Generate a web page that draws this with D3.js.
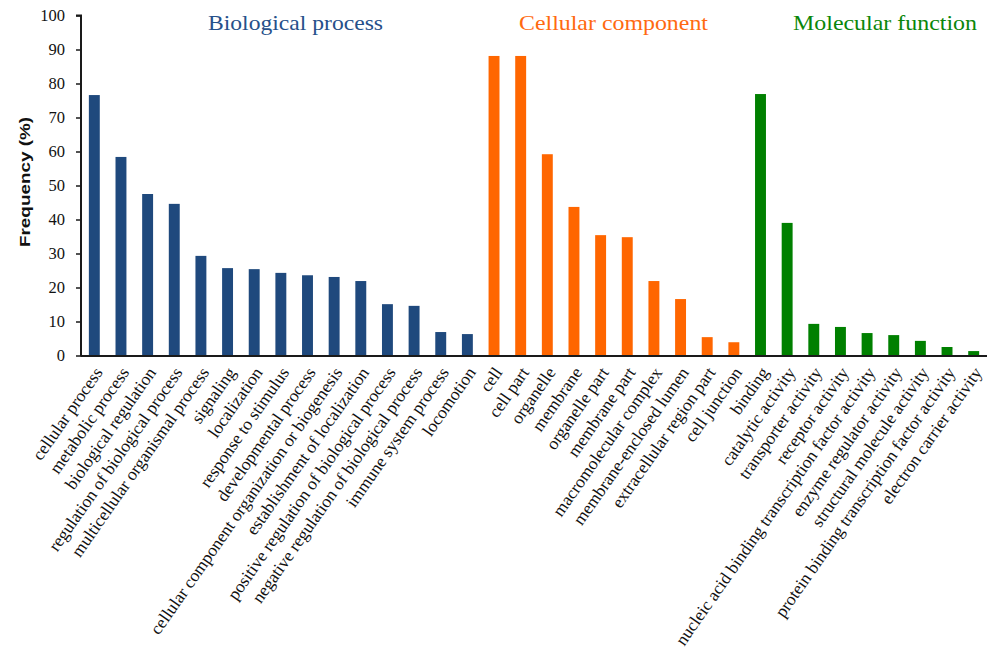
<!DOCTYPE html>
<html>
<head>
<meta charset="utf-8">
<script src="https://cdn.jsdelivr.net/npm/d3@7"></script>
<style>
  html, body { margin: 0; padding: 0; background: #fff; }
  svg { display: block; }
  .serif { font-family: "Liberation Serif", "Times New Roman", serif; }
  .sans { font-family: "Liberation Sans", Arial, sans-serif; }
</style>
</head>
<body>
<svg id="chart" width="987" height="658"></svg>
<script>
// GO term categories, grouped by ontology
const bioProcess = ["cellular process", "metabolic process", "biological regulation",
  "regulation of biological process", "multicellular organismal process", "signaling",
  "localization", "response to stimulus", "developmental process",
  "cellular component organization or biogenesis", "establishment of localization",
  "positive regulation of biological process", "negative regulation of biological process",
  "immune system process", "locomotion"];
const bioValues = [76.6, 58.4, 47.5, 44.6, 29.3, 25.7, 25.4, 24.3, 23.6, 23.1, 21.9, 15.1, 14.6, 6.9, 6.3];

const cellComponent = ["cell", "cell part", "organelle", "membrane", "organelle part",
  "membrane part", "macromolecular complex", "membrane-enclosed lumen",
  "extracellular region part", "cell junction"];
const cellValues = [88.1, 88.1, 59.2, 43.7, 35.4, 34.8, 21.9, 16.6, 5.4, 3.9];

const molFunction = ["binding", "catalytic activity", "transporter activity",
  "receptor activity", "nucleic acid binding transcription factor activity",
  "enzyme regulator activity", "structural molecule activity",
  "protein binding transcription factor activity", "electron carrier activity"];
const molValues = [76.9, 39.0, 9.3, 8.4, 6.6, 6.0, 4.3, 2.5, 1.3];

const groupNames = ["Biological process", "Cellular component", "Molecular function"];
const groupColors = ["#1f497d", "#ff6600", "#008000"];
const groupTextColors = ["#26508a", "#ff6a10", "#0a860a"];
const yTicks = [0, 10, 20, 30, 40, 50, 60, 70, 80, 90, 100];

// combined rows for the band scale
const rows = [];
[[bioProcess, bioValues], [cellComponent, cellValues], [molFunction, molValues]]
  .forEach(([names, vals], g) => names.forEach((n, i) => rows.push({ name: n, value: vals[i], group: g })));

const svg = d3.select("#chart");
const plotLeft = 81, plotRight = 987, plotTop = 15.5, plotBottom = 355.5;

const x = d3.scaleBand()
  .domain(rows.map(d => d.name))
  .range([plotLeft, plotRight])
  .paddingInner(0.59)
  .paddingOuter(0.295);

const y = d3.scaleLinear().domain([0, 100]).range([plotBottom, plotTop]);

// bars
svg.append("g").selectAll("rect")
  .data(rows)
  .join("rect")
  .attr("x", d => x(d.name))
  .attr("width", x.bandwidth())
  .attr("y", d => y(d.value))
  .attr("height", d => y(0) - y(d.value))
  .attr("fill", d => groupColors[d.group]);

// y axis
const yAxis = svg.append("g")
  .attr("transform", `translate(${plotLeft},0)`)
  .call(d3.axisLeft(y).tickValues(yTicks).tickSize(5).tickPadding(11).tickFormat(d3.format("d")));
yAxis.attr("font-family", null).attr("font-size", null);
yAxis.select(".domain").attr("stroke", "#1a1a1a").attr("stroke-width", 2).attr("d", `M-5,${plotTop}H0V${plotBottom + 1}`);
yAxis.selectAll(".tick line").attr("stroke", "#1a1a1a").attr("stroke-width", 1.5);
yAxis.selectAll(".tick text")
  .attr("class", "serif")
  .style("font-size", "16.5px").attr("fill", "#111");

// x axis baseline and rotated category labels
const xAxis = svg.append("g")
  .attr("transform", `translate(0,${plotBottom})`)
  .call(d3.axisBottom(x).tickSize(0).tickPadding(0));
xAxis.attr("font-family", null).attr("font-size", null);
xAxis.select(".domain").attr("stroke", "#1a1a1a").attr("stroke-width", 2).attr("d", `M${plotLeft},0.5H${plotRight}`);
xAxis.selectAll(".tick text")
  .attr("class", "serif")
  .style("font-size", "17.4px").attr("fill", "#111")
  .attr("text-anchor", "end")
  .attr("dy", null).attr("y", null)
  .attr("transform", "translate(9,17) rotate(-55)");

// y axis title
svg.append("text")
  .attr("class", "sans")
  .attr("transform", "translate(30,182) rotate(-90)")
  .attr("text-anchor", "middle")
  .style("font-weight", "bold")
  .style("font-size", "15px")
  .attr("textLength", 130)
  .attr("lengthAdjust", "spacingAndGlyphs")
  .attr("fill", "#111")
  .text("Frequency (%)");

// ontology group headings
const headingX = [295.5, 613.5, 885];
const headingW = [175, 189, 184];
svg.append("g").selectAll("text")
  .data(groupNames)
  .join("text")
  .attr("class", "serif")
  .attr("x", (d, i) => headingX[i])
  .attr("y", 30)
  .attr("text-anchor", "middle")
  .style("font-size", "21px")
  .attr("textLength", (d, i) => headingW[i])
  .attr("lengthAdjust", "spacingAndGlyphs")
  .attr("fill", (d, i) => groupTextColors[i])
  .text(d => d);
</script>
</body>
</html>
